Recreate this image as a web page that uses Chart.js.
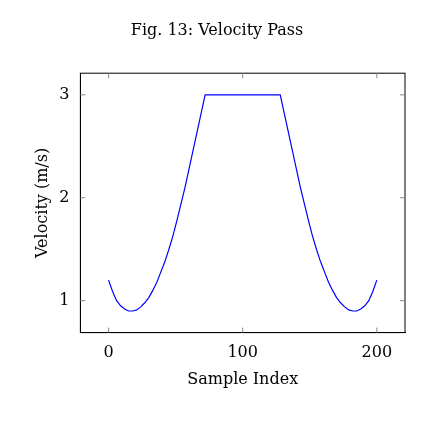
<!DOCTYPE html>
<html lang="en">
<head>
<meta charset="UTF-8">
<title>Velocity Pass</title>
<script src="https://cdn.jsdelivr.net/npm/chart.js"></script>
<style>
    body{ margin:0; background:#fff; }
    .wrap{ width:435px; height:431px; position:relative; }
</style>
</head>
<body>
<div class="wrap"><canvas id="chart" width="435" height="431"></canvas></div>
<script>
    // values
    let sampleIndex = [0, 3, 6, 9, 12, 15, 18, 21, 24, 27, 30, 33, 36, 39, 42, 45, 48, 51, 54, 57, 60, 63, 66, 69, 72,
                       128, 131, 134, 137, 140, 143, 146, 149, 152, 155, 158, 161, 164, 167, 170, 173, 176, 179, 182, 185, 188, 191, 194, 197, 200];
    let velocity    = [1.2, 1.09, 1.0, 0.95, 0.92, 0.9, 0.9, 0.91, 0.94, 0.98, 1.03, 1.1, 1.18, 1.28, 1.38, 1.5, 1.63, 1.78, 1.94, 2.1, 2.28, 2.46, 2.64, 2.82, 3.0,
                       3.0, 2.82, 2.64, 2.46, 2.28, 2.1, 1.94, 1.78, 1.63, 1.5, 1.38, 1.28, 1.18, 1.1, 1.03, 0.98, 0.94, 0.91, 0.9, 0.9, 0.92, 0.95, 1.0, 1.09, 1.2];
    let xTicks = [0, 100, 200];
    let yTicks = [1, 2, 3];

    let font = { family: 'DejaVu Serif', size: 16, weight: 'normal' };
    let pts = sampleIndex.map((x, i) => ({ x: x, y: velocity[i] }));

    new Chart(document.getElementById('chart'), {
        type: 'line',
        data: {
            datasets: [{
                data: pts,
                borderColor: '#0000ff',
                borderWidth: 1.2,
                pointRadius: 0,
                tension: 0
            }]
        },
        options: {
            responsive: false,
            animation: false,
            layout: { padding: { left: 29, right: 30, top: 11, bottom: 38 } },
            plugins: {
                legend: { display: false },
                tooltip: { enabled: false },
                title: { display: true, text: 'Fig. 13: Velocity Pass', color: '#000', font: font, padding: { top: 10, bottom: 33 } }
            },
            scales: {
                x: {
                    type: 'linear', min: -21, max: 221,
                    afterBuildTicks: ax => { ax.ticks = xTicks.map(v => ({ value: v })); },
                    grid: { display: false },
                    border: { color: '#000' },
                    ticks: { color: '#000', font: font },
                    title: { display: true, text: 'Sample Index', color: '#000', font: font }
                },
                y: {
                    min: 0.69, max: 3.21,
                    afterBuildTicks: ax => { ax.ticks = yTicks.map(v => ({ value: v })); },
                    grid: { display: false },
                    border: { color: '#000' },
                    ticks: { color: '#000', font: font },
                    title: { display: true, text: 'Velocity (m/s)', color: '#000', font: font }
                }
            }
        },
        plugins: [{
            id: 'frame',
            afterDraw(c) {
                let a = c.chartArea, g = c.ctx;
                g.save();
                g.strokeStyle = '#000'; g.lineWidth = 1;
                g.strokeRect(a.left, a.top, a.right - a.left, a.bottom - a.top);
                g.strokeStyle = '#888';
                xTicks.forEach(v => {
                    let px = c.scales.x.getPixelForValue(v);
                    g.beginPath(); g.moveTo(px, a.bottom); g.lineTo(px, a.bottom - 5);
                    g.moveTo(px, a.top); g.lineTo(px, a.top + 5); g.stroke();
                });
                yTicks.forEach(v => {
                    let py = c.scales.y.getPixelForValue(v);
                    g.beginPath(); g.moveTo(a.left, py); g.lineTo(a.left + 5, py);
                    g.moveTo(a.right, py); g.lineTo(a.right - 5, py); g.stroke();
                });
                g.restore();
            }
        }]
    });
</script>
</body>
</html>
